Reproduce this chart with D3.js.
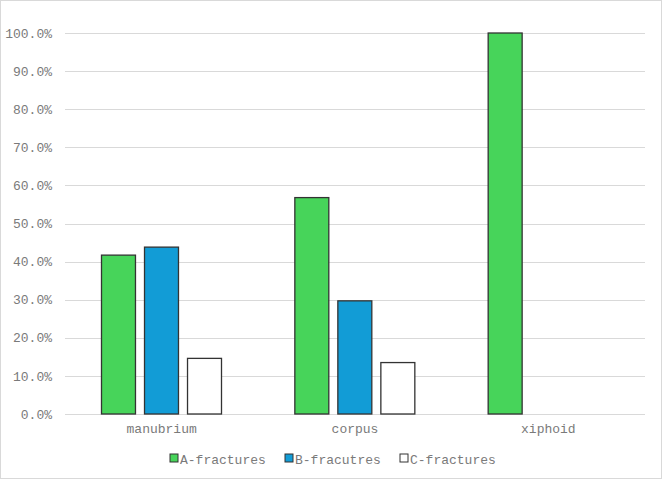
<!DOCTYPE html>
<html>
<head>
<meta charset="utf-8">
<script src="https://cdn.jsdelivr.net/npm/d3@7"></script>
<style>
  body { margin: 0; background: #fff; }
  text { font-family: "Courier New", "Liberation Mono", monospace; fill: #7a7a7a; }
</style>
</head>
<body>
<div id="chart"></div>
<script>
var categories = ["manubrium", "corpus", "xiphoid"];
var seriesNames = ["A-fractures", "B-fracutres", "C-fractures"];
var aValues = [41.7, 56.8, 100.0];
var bValues = [43.8, 29.7, null];
var cValues = [14.6, 13.5, null];
var yTicks = [0, 10, 20, 30, 40, 50, 60, 70, 80, 90, 100];

var colors = ["#47d45a", "#129cd6", "#ffffff"];

var W = 662, H = 479;
var margin = {top: 33, right: 17, bottom: 65, left: 65},
    width = W - margin.left - margin.right,
    height = H - margin.top - margin.bottom;

var svg = d3.select("#chart").append("svg")
    .attr("width", W)
    .attr("height", H);

svg.append("rect")
    .attr("x", 0.5).attr("y", 0.5)
    .attr("width", W - 1).attr("height", H - 1)
    .attr("fill", "#fff")
    .attr("stroke", "#d9d9d9");

var g = svg.append("g")
    .attr("transform", "translate(" + margin.left + "," + margin.top + ")");

var xs = d3.scaleBand().domain(categories).range([0, width]);
var xInner = d3.scaleBand().domain(seriesNames)
    .range([36.5, 156.5]).paddingInner(0.21);
var ys = d3.scaleLinear().domain([0, 100]).range([height, 0]);

// gridlines
g.append("g")
    .selectAll("line")
    .data(yTicks)
    .join("line")
    .attr("x1", 0).attr("x2", width)
    .attr("y1", d => Math.round(ys(d)) + 0.5)
    .attr("y2", d => Math.round(ys(d)) + 0.5)
    .attr("stroke", "#d9d9d9")
    .attr("stroke-width", 1);

// y axis labels
var yAxis = g.append("g")
    .attr("transform", "translate(-10,0)")
    .call(d3.axisLeft(ys).tickValues(yTicks).tickSize(0).tickFormat(d => d.toFixed(1) + "%"));
yAxis.select(".domain").remove();
yAxis.selectAll("text").style("font-size", "13px").attr("fill", "#7a7a7a");

// x axis labels
var xAxis = g.append("g")
    .attr("transform", "translate(0," + height + ")")
    .call(d3.axisBottom(xs).tickSize(0).tickPadding(10));
xAxis.select(".domain").remove();
xAxis.selectAll("text").style("font-size", "13px").attr("fill", "#7a7a7a");

var series = [aValues, bValues, cValues];
series.forEach(function(vals, si){
  g.append("g")
    .selectAll("rect")
    .data(categories.map((c, i) => ({cat: c, v: vals[i]})).filter(d => d.v != null))
    .join("rect")
    .attr("x", d => xs(d.cat) + xInner(seriesNames[si]))
    .attr("y", d => ys(d.v))
    .attr("width", xInner.bandwidth())
    .attr("height", d => height - ys(d.v))
    .attr("fill", colors[si])
    .attr("stroke", "#333")
    .attr("stroke-width", 1.3);
});

// legend
var legX = [170, 285, 400];
var leg = svg.append("g").attr("transform", "translate(0,459)");
seriesNames.forEach(function(name, i){
  leg.append("rect")
    .attr("x", legX[i]).attr("y", -5)
    .attr("width", 8).attr("height", 8)
    .attr("fill", colors[i])
    .attr("stroke", "#333")
    .attr("stroke-width", 1);
  leg.append("text")
    .attr("x", legX[i] + 10).attr("y", 0)
    .attr("dy", "0.35em")
    .style("font-size", "13px")
    .text(name);
});
</script>
</body>
</html>
